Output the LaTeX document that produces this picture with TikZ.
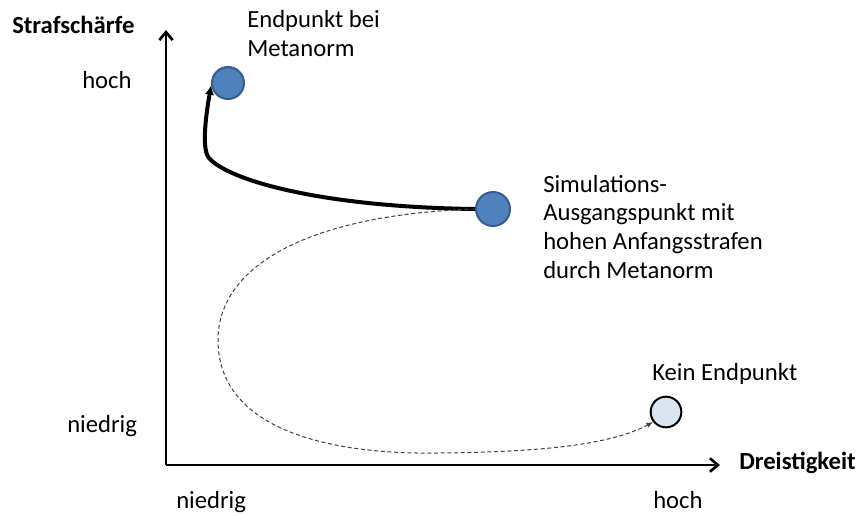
\documentclass[tikz,border=0pt]{standalone}
\usepackage{fontspec}
\setmainfont{Carlito}
\usetikzlibrary{arrows.meta}
\definecolor{dotblue}{HTML}{4F81BD}
\definecolor{dotedge}{HTML}{385D8A}
\definecolor{dotlight}{HTML}{DBE5F1}
\definecolor{dashgray}{HTML}{404040}
\tikzset{
  lbl/.style={inner sep=0pt, anchor=base west, font=\fontsize{18.5}{21.5}\selectfont, align=left},
  axislbl/.style={lbl, font=\fontsize{18.5}{21.5}\selectfont\bfseries},
  axisline/.style={line width=2pt, -{Straight Barb[length=6pt,width=10pt,line width=2pt]}},
  bluedot/.style={circle, inner sep=0pt, minimum size=24pt, fill=dotblue, draw=dotedge, line width=1.5pt},
  lightdot/.style={circle, inner sep=0pt, minimum size=23pt, fill=dotlight, draw=black, line width=1.5pt},
  pathline/.style={line width=3pt, -{Latex[length=7pt,width=7pt]}},
  dashpath/.style={dashgray, line width=0.75pt, dash pattern=on 3pt off 2pt, -{Latex[length=5pt,width=4pt]}}
}
\begin{document}
\begin{tikzpicture}[x=0.75pt,y=-0.75pt]
  \useasboundingbox (0,0) rectangle (858,515);

  % axes
  \coordinate (origin) at (166,465);
  \coordinate (ytop) at (166,30);
  \coordinate (xend) at (720,465);
  \draw[axisline] (origin) -- (ytop);
  \draw[axisline] (origin) -- (xend);

  % axis titles and scale labels
  \node[axislbl] (ytitle) at (12,33) {Strafschärfe};
  \node[axislbl] (xtitle) at (739,469) {Dreistigkeit};
  \node[lbl] (yhigh) at (82,88) {hoch};
  \node[lbl] (ylow) at (67,432) {niedrig};
  \node[lbl] (xlow) at (176,508) {niedrig};
  \node[lbl] (xhigh) at (653,508) {hoch};

  % points
  \node[bluedot] (endM) at (228,83) {};
  \node[bluedot, minimum size=25.5pt] (start) at (493,209) {};
  \node[lightdot] (noend) at (666,412) {};

  % point labels (anchored at the baseline of their last line)
  \node[lbl] (endMlbl) at (247,56) {Endpunkt bei\\Metanorm};
  \node[lbl] (startlbl) at (543,278) {Simulations-\\Ausgangspunkt mit\\hohen Anfangsstrafen\\durch Metanorm};
  \node[lbl] (noendlbl) at (652,380) {Kein Endpunkt};

  % trajectory with metanorm
  \draw[pathline] (start.west) .. controls (320,207) and (228,180) .. (209,158)
        .. controls (202,150) and (205,120) .. (endM.188);

  % trajectory without metanorm
  \draw[dashpath] (start.west) .. controls (300,215) and (218,270) .. (218,340)
        .. controls (218,430) and (330,455) .. (440,453)
        .. controls (540,452) and (610,445) .. (noend.218);
\end{tikzpicture}
\end{document}
